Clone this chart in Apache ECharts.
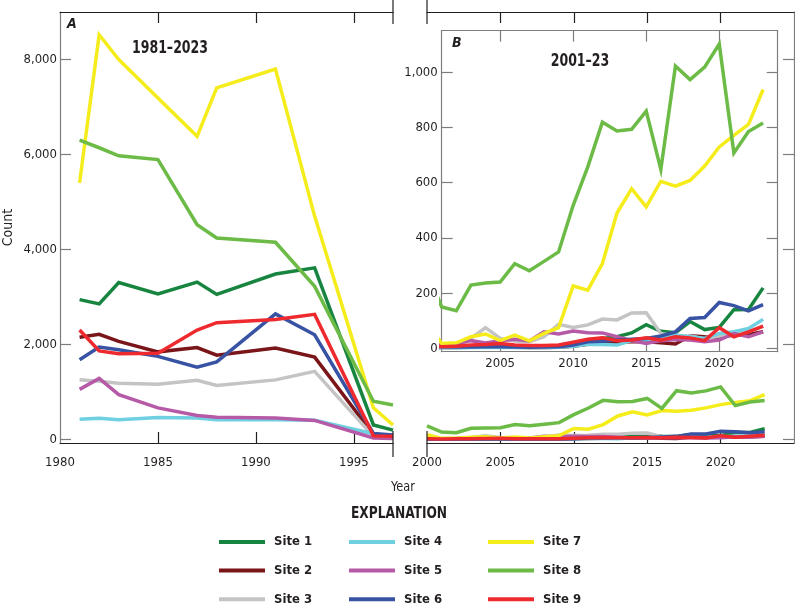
<!DOCTYPE html>
<html>
<head>
<meta charset="utf-8">
<script src="https://cdn.jsdelivr.net/npm/echarts@6/dist/echarts.min.js"></script>
<style>
  html, body { margin: 0; padding: 0; background: #fff; }
  #chart { width: 795px; height: 609px; }
  #err { position: absolute; left: 4px; bottom: 4px; font: 11px sans-serif; color: #c00; }
</style>
</head>
<body>
<div id="chart"></div>
<div id="err"></div>
<script>
  window.onerror = function(msg, src, line) {
    document.getElementById('err').textContent += msg + ' @' + line + ' ';
  };
</script>
<script>
  // --- data ---
  const sites = ['Site 1', 'Site 2', 'Site 3', 'Site 4', 'Site 5', 'Site 6', 'Site 7', 'Site 8', 'Site 9'];
  const siteColors = ['#17853f', '#7a1619', '#c4c4c4', '#6fd0e2', '#b65aa8', '#3953a4', '#f5ec1c', '#6cbb46', '#ee2a2e'];

  // panel A, 1981-1997
  const yearsA = [1981, 1982, 1983, 1985, 1987, 1988, 1991, 1993, 1996, 1997];
  const site1A = [2940, 2850, 3300, 3060, 3310, 3050, 3480, 3610, 300, 190];
  const site2A = [2150, 2210, 2060, 1840, 1930, 1770, 1920, 1730, 100, 80];
  const site3A = [1250, 1220, 1180, 1160, 1240, 1130, 1250, 1430, 60, 40];
  const site4A = [420, 440, 410, 455, 445, 410, 410, 400, 116, 60];
  const site5A = [1050, 1280, 940, 660, 500, 465, 445, 396, 25, 15];
  const site6A = [1675, 1940, 1885, 1745, 1515, 1630, 2640, 2200, 120, 90];
  const site7A = [5400, 8520, 8000, 7190, 6380, 7400, 7800, 4700, 660, 300];
  const site8A = [6300, 6140, 5970, 5890, 4520, 4240, 4150, 3220, 800, 720];
  const site9A = [2300, 1860, 1800, 1810, 2300, 2455, 2520, 2630, 70, 60];

  // panel B, 2000-2023
  const yearsB = [2000, 2001, 2002, 2003, 2004, 2005, 2006, 2007, 2008, 2009, 2010, 2011,
                  2012, 2013, 2014, 2015, 2016, 2017, 2018, 2019, 2020, 2021, 2022, 2023];
  const site1B = [5, 4, 4, 6, 8, 8, 6, 5, 6, 8, 20, 30, 36, 42, 56, 86, 62, 57, 97, 68, 76, 140, 141, 219];
  const site2B = [5, 3, 3, 4, 4, 5, 4, 3, 3, 4, 8, 15, 20, 22, 24, 24, 20, 16, 46, 42, 40, 48, 50, 60];
  const site3B = [20, 12, 18, 36, 75, 36, 27, 24, 42, 87, 76, 85, 106, 103, 128, 129, 54, 45, 45, 35, 45, 55, 60, 80];
  const site4B = [3, 2, 2, 3, 3, 4, 3, 3, 3, 4, 8, 15, 14, 12, 28, 30, 42, 48, 42, 36, 54, 60, 72, 105];
  const site5B = [15, 12, 16, 28, 20, 28, 33, 27, 60, 52, 63, 57, 56, 42, 28, 18, 28, 32, 30, 24, 30, 54, 42, 60];
  const site6B = [5, 6, 5, 5, 6, 6, 5, 4, 5, 6, 12, 24, 26, 30, 33, 36, 45, 60, 108, 112, 166, 155, 136, 158];
  const site7B = [95, 18, 20, 42, 52, 28, 48, 27, 54, 75, 226, 211, 307, 490, 578, 512, 605, 587, 608, 660, 729, 771, 811, 937];
  const site8B = [280, 150, 136, 229, 237, 240, 307, 281, 315, 349, 518, 657, 819, 787, 793, 859, 648, 1022, 973, 1018, 1102, 707, 785, 816];
  const site9B = [10, 6, 8, 12, 14, 18, 12, 10, 10, 12, 22, 33, 38, 28, 30, 38, 30, 42, 38, 28, 75, 42, 60, 81];

  const panelA = [site1A, site2A, site3A, site4A, site5A, site6A, site7A, site8A, site9A];
  const panelB = [site1B, site2B, site3B, site4B, site5B, site6B, site7B, site8B, site9B];

  const countTicks = [0, 2000, 4000, 6000, 8000];
  const insetTicks = [0, 200, 400, 600, 800, 1000];
  const yearTicksA = [1985, 1990, 1995];
  const yearLabelsA = [1980, 1985, 1990, 1995];
  const yearTicksB = [2005, 2010, 2015, 2020];
  const yearLabelsB = [2000, 2005, 2010, 2015, 2020];

  // --- styles ---
  const FONT = "'DejaVu Sans Condensed', 'Liberation Sans Narrow', 'Arial Narrow', sans-serif";
  const BLACK = '#231f20';
  const GRAY = '#7d7d7d';
  const TICK = 11;
  const fmtCount = v => Math.round(v).toLocaleString('en-US');
  const fmtYear = v => String(Math.round(v));

  // axis ranges per panel
  const rangeXA = [1980, 1997], rangeYA = [-80, 9000];
  const rangeXL = [2000, 2025], rangeYL = [-80, 9000];
  const rangeXB = [2001, 2024], rangeYB = [-12, 1150];

  // value axis with inward ticks at fixed values
  function axis(lineColor, ticks, labels, formatter, margin) {
    return {
      type: 'value',
      splitLine: { show: false },
      axisLine: { show: true, onZero: false, lineStyle: { color: lineColor, width: 1.2 } },
      axisTick: { show: true, inside: true, length: TICK, customValues: ticks, lineStyle: { color: lineColor, width: 1.2 } },
      axisLabel: labels ? {
        show: true, customValues: labels, formatter: formatter, margin: margin,
        color: BLACK, fontFamily: FONT, fontSize: 13
      } : { show: false }
    };
  }

  const chart = echarts.init(document.getElementById('chart'), null, { renderer: 'canvas' });

  const grids = [
    { left: 60, top: 12, width: 333, height: 431 },     // A
    { left: 427, top: 12, width: 367, height: 431 },    // lower right, same count scale
    { left: 441.7, top: 30.7, width: 336, height: 321 } // B inset
  ].map(g => Object.assign(g, { containLabel: false, outerBoundsMode: 'none' }));

  const xAxes = [
    Object.assign(axis(BLACK, yearTicksA, yearLabelsA, fmtYear, 13), { gridIndex: 0, position: 'bottom', min: rangeXA[0], max: rangeXA[1] }),
    Object.assign(axis(BLACK, yearTicksA), { gridIndex: 0, position: 'top', min: rangeXA[0], max: rangeXA[1] }),
    Object.assign(axis(BLACK, yearTicksB, yearLabelsB, fmtYear, 13), { gridIndex: 1, position: 'bottom', min: rangeXL[0], max: rangeXL[1] }),
    Object.assign(axis(BLACK, yearTicksB), { gridIndex: 1, position: 'top', min: rangeXL[0], max: rangeXL[1] }),
    Object.assign(axis(GRAY, yearTicksB, yearTicksB, fmtYear, 5), { gridIndex: 2, position: 'bottom', min: rangeXB[0], max: rangeXB[1] }),
    Object.assign(axis(GRAY, yearTicksB), { gridIndex: 2, position: 'top', min: rangeXB[0], max: rangeXB[1] })
  ];

  const yAxes = [
    Object.assign(axis(GRAY, countTicks, countTicks, fmtCount, 3), {
      gridIndex: 0, position: 'left', min: rangeYA[0], max: rangeYA[1],
      name: 'Count', nameLocation: 'middle', nameGap: 45,
      nameTextStyle: { fontFamily: FONT, fontSize: 14, color: BLACK }
    }),
    Object.assign(axis(GRAY, countTicks), { gridIndex: 1, position: 'right', min: rangeYL[0], max: rangeYL[1] }),
    Object.assign(axis(GRAY, insetTicks, insetTicks, fmtCount, 4), { gridIndex: 2, position: 'left', min: rangeYB[0], max: rangeYB[1] }),
    Object.assign(axis(GRAY, insetTicks), { gridIndex: 2, position: 'right', min: rangeYB[0], max: rangeYB[1] })
  ];

  const series = [];
  function addPanel(years, panel, xi, yi) {
    panel.forEach((vals, i) => {
      series.push({
        type: 'line',
        name: sites[i],
        xAxisIndex: xi,
        yAxisIndex: yi,
        data: years.map((y, k) => [y, vals[k]]),
        symbol: 'none',
        clip: true,
        lineStyle: { color: siteColors[i], width: 3.5, join: 'miter' },
        itemStyle: { color: siteColors[i] }
      });
    });
  }
  addPanel(yearsA, panelA, 0, 0);
  addPanel(yearsB, panelB, 2, 1);
  addPanel(yearsB, panelB, 4, 2);

  // legend, three columns
  const legendLeft = [219, 349, 488];
  const legends = legendLeft.map((left, c) => ({
    orient: 'vertical',
    left: left,
    top: 534,
    padding: 0,
    data: sites.slice(c * 3, c * 3 + 3),
    icon: 'rect',
    itemWidth: 46,
    itemHeight: 4,
    itemGap: 12.6,
    selectedMode: false,
    textStyle: { fontFamily: FONT, fontWeight: 'bold', fontSize: 13, color: BLACK, lineHeight: 16, padding: [0, 0, 0, 4] }
  }));

  let uid = 0;
  function label(text, x, y, font, align, sx) {
    return {
      id: 'g' + (uid++), type: 'text', x: x, y: y, scaleX: sx || 1, silent: true,
      style: { text: text, fill: BLACK, font: font, textAlign: align || 'center', verticalAlign: 'middle' }
    };
  }
  function seg(x1, y1, x2, y2) {
    return { id: 'g' + (uid++), type: 'line', silent: true, z: 100, shape: { x1: x1, y1: y1, x2: x2, y2: y2 }, style: { stroke: BLACK, lineWidth: 1.2 } };
  }

  const decorations = [
    // axis break marks
    seg(393, 0, 393, 24), seg(393, 431, 393, 457),
    seg(427, 0, 427, 24), seg(427, 431, 427, 457),
    label('A', 67, 24, "italic bold 14px " + FONT, 'left'),
    label('1981\u20132023', 170, 49, "bold 17px " + FONT, 'center', 0.82),
    label('B', 452, 43, "italic bold 14px " + FONT, 'left'),
    label('2001\u201323', 580, 62, "bold 17px " + FONT, 'center', 0.82),
    label('Year', 403, 487, "14px " + FONT, 'center', 0.9),
    label('EXPLANATION', 399, 514, "bold 16px " + FONT, 'center', 0.85)
  ];

  chart.setOption({
    animation: false,
    grid: grids,
    xAxis: xAxes,
    yAxis: yAxes,
    series: series,
    legend: legends,
    graphic: { elements: decorations }
  });
</script>
</body>
</html>
